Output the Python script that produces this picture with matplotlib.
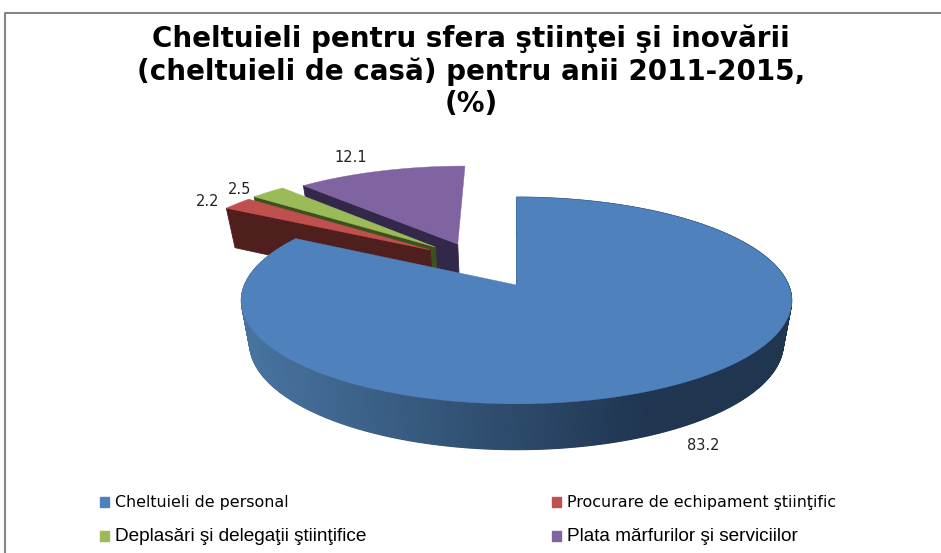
import matplotlib
matplotlib.use('Agg')
import matplotlib.pyplot as plt
from matplotlib.patches import Patch
import numpy as np

title = "Cheltuieli pentru sfera ştiinţei şi inovării\n(cheltuieli de casă) pentru anii 2011-2015,\n(%)"
categories = ["Cheltuieli de personal", "Procurare de echipament ştiinţific",
              "Deplasări şi delegaţii ştiinţifice", "Plata mărfurilor şi serviciilor"]
values = [83.2, 2.2, 2.5, 12.1]

top_colors = ['#4f81bd', '#c0504d', '#9bbb59', '#8064a2']
wall_colors = ['#2c4d72', '#4f1f1e', '#3f5020', '#33284a']

# how far each slice is pulled out of the pie
offsets = [(0.0, 0.0), (-0.334, 0.366), (-0.316, 0.398), (-0.23, 0.43)]

# where the value labels sit, in pixels
label_pos = [(703, 445), (208, 201), (240, 189), (351, 158)]

CX, CY = 516.5, 285  # pie centre on the image
A, B = 272, 101
K = 0.15             # perspective
DEPTH = 42
SHRINK = 0.03


def project(u, v, z=0.0):
    w = 1 + K * v
    x = CX + A * (1 - SHRINK * z) * u / w
    y = CY + (DEPTH * z - B * (1 - SHRINK * z) * v) / w
    return x, y


def arc(t0, t1, off, z=0.0):
    t = np.radians(np.arange(t0, t1, 0.5).tolist() + [t1])
    return project(off[0] + np.sin(t), off[1] + np.cos(t), z)


def blend(c1, c2, f):
    c1 = np.array(matplotlib.colors.to_rgb(c1))
    c2 = np.array(matplotlib.colors.to_rgb(c2))
    return tuple(c1 + (c2 - c1) * f)


def draw_radial(ax, t, off, color):
    r = np.array([0.0, 1.0])
    u = off[0] + r * np.sin(np.radians(t))
    v = off[1] + r * np.cos(np.radians(t))
    x0, y0 = project(u, v)
    x1, y1 = project(u, v, 1.0)
    ax.fill([x0[0], x0[1], x1[1], x1[0]], [y0[0], y0[1], y1[1], y1[0]],
            color=color, lw=0.6, zorder=2)


def draw_slice(ax, t0, t1, off, top, wall, shaded=False):
    x0, y0 = arc(t0, t1, off)
    x1, y1 = arc(t0, t1, off, 1.0)
    if shaded:
        # outer wall of the big slice goes from mid blue on the left to dark on the right
        for i in range(len(x0) - 1):
            f = np.clip((x0[i] - 250) / 400.0, 0, 1)
            c = blend('#47739f', '#1f3550', f)
            ax.fill([x0[i], x0[i + 1], x1[i + 1], x1[i]], [y0[i], y0[i + 1], y1[i + 1], y1[i]],
                    color=c, ec=c, lw=0.8, zorder=2)
    draw_radial(ax, t0, off, wall)
    cx, cy = project(off[0], off[1])
    ax.fill(np.r_[cx, x0], np.r_[cy, y0], color=top, lw=0.3, zorder=2)


fig = plt.figure(figsize=(9.41, 5.53), dpi=100)
ax = fig.add_axes([0, 0, 1, 1])
ax.set_xlim(0, 941)
ax.set_ylim(553, 0)
ax.axis('off')

# frame of the chart area
ax.plot([5, 5, 941], [553, 12.5, 12.5], color='#868686', lw=1.5)

angles = np.r_[0, np.cumsum(values)] / sum(values) * 360

# back slices first, the big one goes on top of them
for i in [3, 2, 1, 0]:
    draw_slice(ax, angles[i], angles[i + 1], offsets[i], top_colors[i], wall_colors[i], shaded=i == 0)

for val, (lx, ly) in zip(values, label_pos):
    ax.text(lx, ly, "%.1f" % val, ha='center', va='center', fontsize=10.5, color='#222222')

ax.text(471, 71, title, ha='center', va='center', fontsize=20, fontweight='bold',
        family='DejaVu Sans', linespacing=1.2, color='black')

handles = [Patch(color=top_colors[i], label=categories[i]) for i in [0, 2, 1, 3]]
leg = ax.legend(handles=handles, ncols=2, loc='upper left', bbox_to_anchor=(100 / 941, 1 - 495 / 553),
                frameon=False, fontsize=10.5, handlelength=0.65, handleheight=0.65,
                handletextpad=0.4, columnspacing=12.7, labelspacing=1.25,
                borderpad=0, borderaxespad=0)
texts = leg.get_texts()
for t in (texts[0], texts[2]):
    t.set_family('DejaVu Sans')
    t.set_fontsize(11.4)
for t in (texts[1], texts[3]):
    t.set_family('Liberation Sans')
    t.set_fontsize(13.7)

fig.savefig('out.png', dpi=100)
